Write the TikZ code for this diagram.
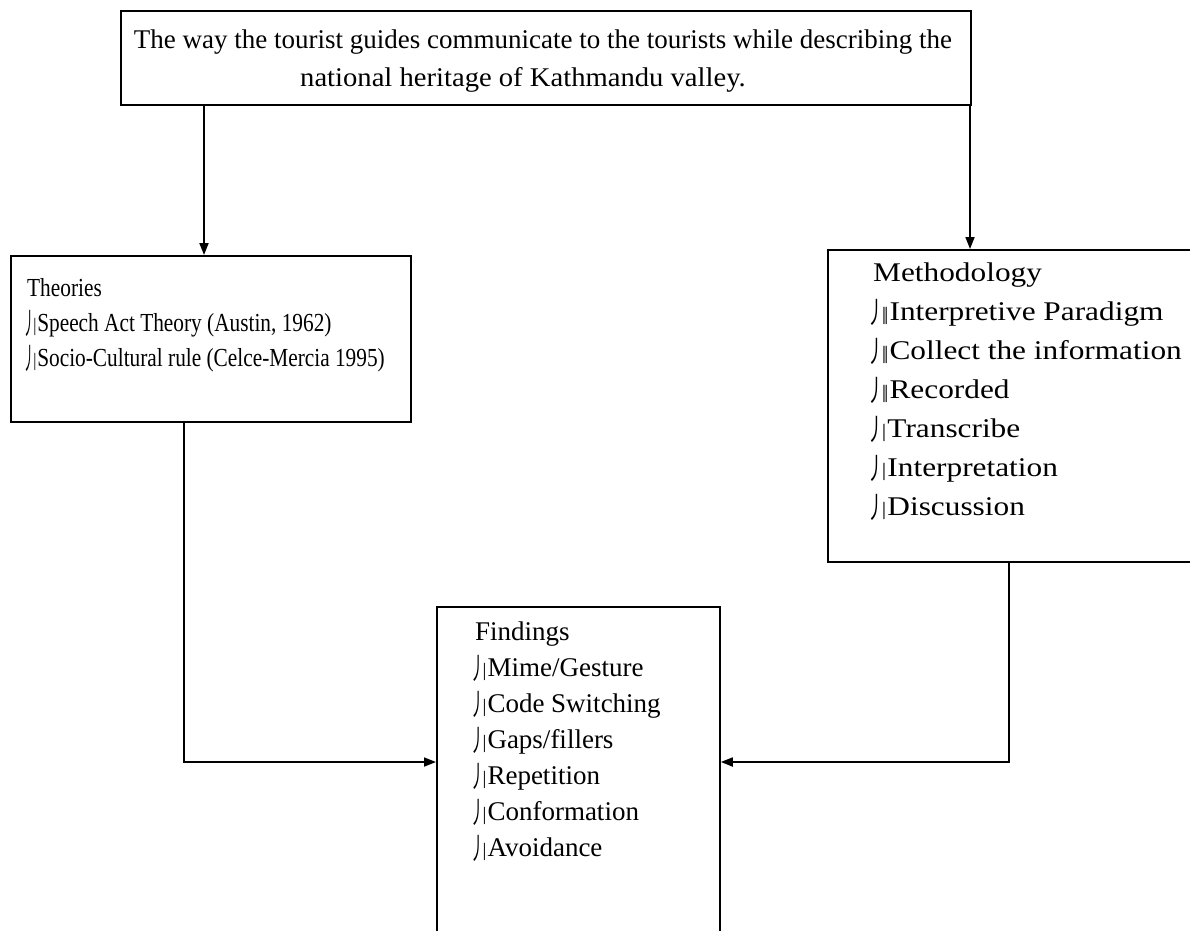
\documentclass[tikz,border=0pt]{standalone}
\usepackage{fontspec}
\usepackage{graphicx}
\setmainfont{Liberation Serif}
\newfontfamily\cjk{Noto Sans CJK SC}
\usetikzlibrary{arrows.meta}
\newcommand\bmark{\rlap{\raisebox{-3pt}{\scalebox{0.55}[1.1]{\cjk\fontsize{27}{27}\selectfont\kern-9pt 丿}}}\kern7.5pt}
\newcommand\onebar{{\fontsize{19}{19}\selectfont|}}
\newcommand\bulA{\bmark\onebar\kern1pt}
\newcommand\bulB{\bmark\onebar\kern-2pt\onebar\kern1pt}
\newcommand\thx[1]{\scalebox{0.82}[1]{#1}}
\newcommand\mhx[1]{\scalebox{1.16}[1]{#1}}
\newcommand\tpx[1]{\scalebox{1.06}[1]{#1}}
\begin{document}
\begin{tikzpicture}[x=1pt,y=-1pt,
  bx/.style={draw, line width=1.8pt, rectangle, inner sep=0pt, anchor=north west},
  tx/.style={anchor=base west, inner sep=0pt, font=\fontsize{27}{27}\selectfont},
  thtx/.style={anchor=base west, inner sep=0pt, font=\fontsize{26}{26}\selectfont},
  mtx/.style={anchor=base west, inner sep=0pt, font=\fontsize{27}{27}\selectfont},
  tt/.style={anchor=base, inner sep=0pt, font=\fontsize{27}{27}\selectfont},
  ar/.style={line width=1.8pt, -{Triangle[length=12pt,width=9pt]}}]
\useasboundingbox (0,0) rectangle (1190,930);
% boxes
\node[bx, minimum width=850pt, minimum height=94pt] (top) at (120,10) {};
\node[bx, minimum width=400pt, minimum height=166pt] (theo) at (10,255) {};
\node[bx, minimum width=420pt, minimum height=312pt] (meth) at (827,249) {};
\node[bx, minimum width=283pt, minimum height=400pt] (find) at (436,606) {};
% top text
\node[tt] (t1) at (543,48) {The way the tourist guides communicate to the tourists while describing the};
\node[tt] (t2) at (523,86) {\tpx{national heritage of Kathmandu valley.}};
% theories
\node[thtx] (th0) at (27,296) {\thx{Theories}};
\node[thtx] (th1) at (27,331) {\thx{\bulA Speech Act Theory (Austin, 1962)}};
\node[thtx] (th2) at (27,366) {\thx{\bulA Socio-Cultural rule (Celce-Mercia 1995)}};
% methodology
\node[mtx] (m0) at (873,281) {\mhx{Methodology}};
\node[mtx] (m1) at (873,320) {\mhx{\bulB Interpretive Paradigm}};
\node[mtx] (m2) at (873,359) {\mhx{\bulB Collect the information}};
\node[mtx] (m3) at (873,398) {\mhx{\bulB Recorded}};
\node[mtx] (m4) at (873,437) {\mhx{\bulA Transcribe}};
\node[mtx] (m5) at (873,476) {\mhx{\bulA Interpretation}};
\node[mtx] (m6) at (873,515) {\mhx{\bulA Discussion}};
% findings
\node[tx] (f0) at (475,640) {Findings};
\node[tx] (f1) at (475,676) {\bulA Mime/Gesture};
\node[tx] (f2) at (475,712) {\bulA Code Switching};
\node[tx] (f3) at (475,748) {\bulA Gaps/fillers};
\node[tx] (f4) at (475,784) {\bulA Repetition};
\node[tx] (f5) at (475,820) {\bulA Conformation};
\node[tx] (f6) at (475,856) {\bulA Avoidance};
% connectors
\coordinate (a1) at ([xshift=84pt]top.south west);
\draw[ar] (a1) -- (a1 |- theo.north);
\coordinate (a2) at ([xshift=850pt]top.south west);
\draw[ar] (a2) -- (a2 |- meth.north);
\coordinate (b1) at ([xshift=174pt]theo.south west);
\coordinate (b2) at ([yshift=-156pt]find.north west);
\draw[ar] (b1) |- (b2);
\coordinate (c1) at ([xshift=182pt]meth.south west);
\coordinate (c2) at ([yshift=-156pt]find.north east);
\draw[ar] (c1) |- (c2);
\end{tikzpicture}
\end{document}
